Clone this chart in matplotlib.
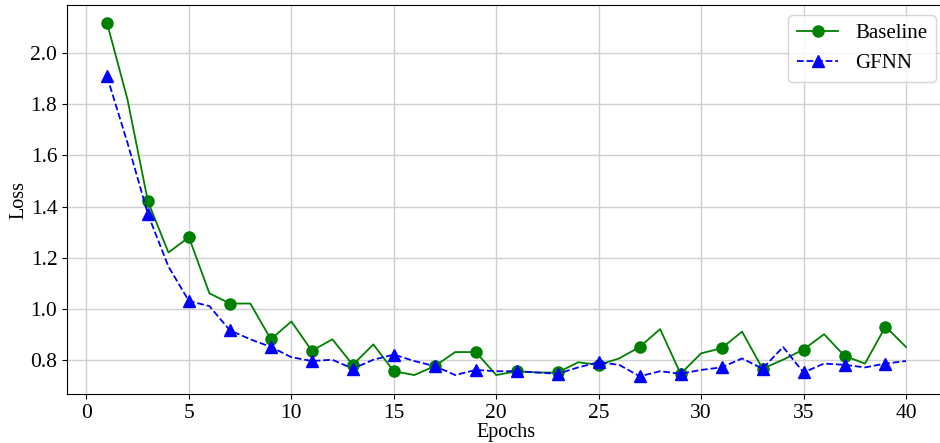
import matplotlib
matplotlib.use("Agg")
import matplotlib.pyplot as plt

# Training loss per epoch
epochs = list(range(1, 41))
baseline_loss = [2.12, 1.82, 1.42, 1.22, 1.28, 1.06, 1.02, 1.02, 0.88, 0.95,
                 0.835, 0.88, 0.78, 0.86, 0.755, 0.74, 0.775, 0.83, 0.83, 0.74,
                 0.755, 0.75, 0.75, 0.79, 0.78, 0.805, 0.85, 0.92, 0.745, 0.825,
                 0.845, 0.91, 0.765, 0.80, 0.84, 0.90, 0.815, 0.785, 0.93, 0.85]
gfnn_loss = [1.91, 1.65, 1.37, 1.165, 1.03, 1.01, 0.915, 0.88, 0.85, 0.81,
             0.795, 0.80, 0.765, 0.80, 0.82, 0.795, 0.775, 0.74, 0.76, 0.755,
             0.755, 0.75, 0.745, 0.77, 0.79, 0.78, 0.735, 0.755, 0.745, 0.76,
             0.77, 0.805, 0.765, 0.85, 0.75, 0.785, 0.78, 0.77, 0.785, 0.795]

plt.rcParams["font.family"] = ["Liberation Serif", "DejaVu Serif"]

fig = plt.figure(figsize=(9.4, 4.43), dpi=100)
ax = fig.add_axes([0.0713, 0.1106, 0.935, 0.878])

ax.plot(epochs, baseline_loss, color="green", linestyle="-", linewidth=1.3,
        marker="o", markersize=8, markevery=2, label="Baseline")
ax.plot(epochs, gfnn_loss, color="blue", linestyle="--", linewidth=1.3,
        marker="^", markersize=8, markevery=2, label="GFNN")

ax.set_xlabel("Epochs", fontsize=14.5, labelpad=0)
ax.set_ylabel("Loss", fontsize=14.5, labelpad=1)
ax.tick_params(labelsize=15.5)
ax.grid(True, color="#d0d0d0", linewidth=1.0)
ax.spines["right"].set_visible(False)
ax.legend(loc="upper right", fontsize=15, framealpha=0.8)

fig.savefig("out.png", dpi=100)
